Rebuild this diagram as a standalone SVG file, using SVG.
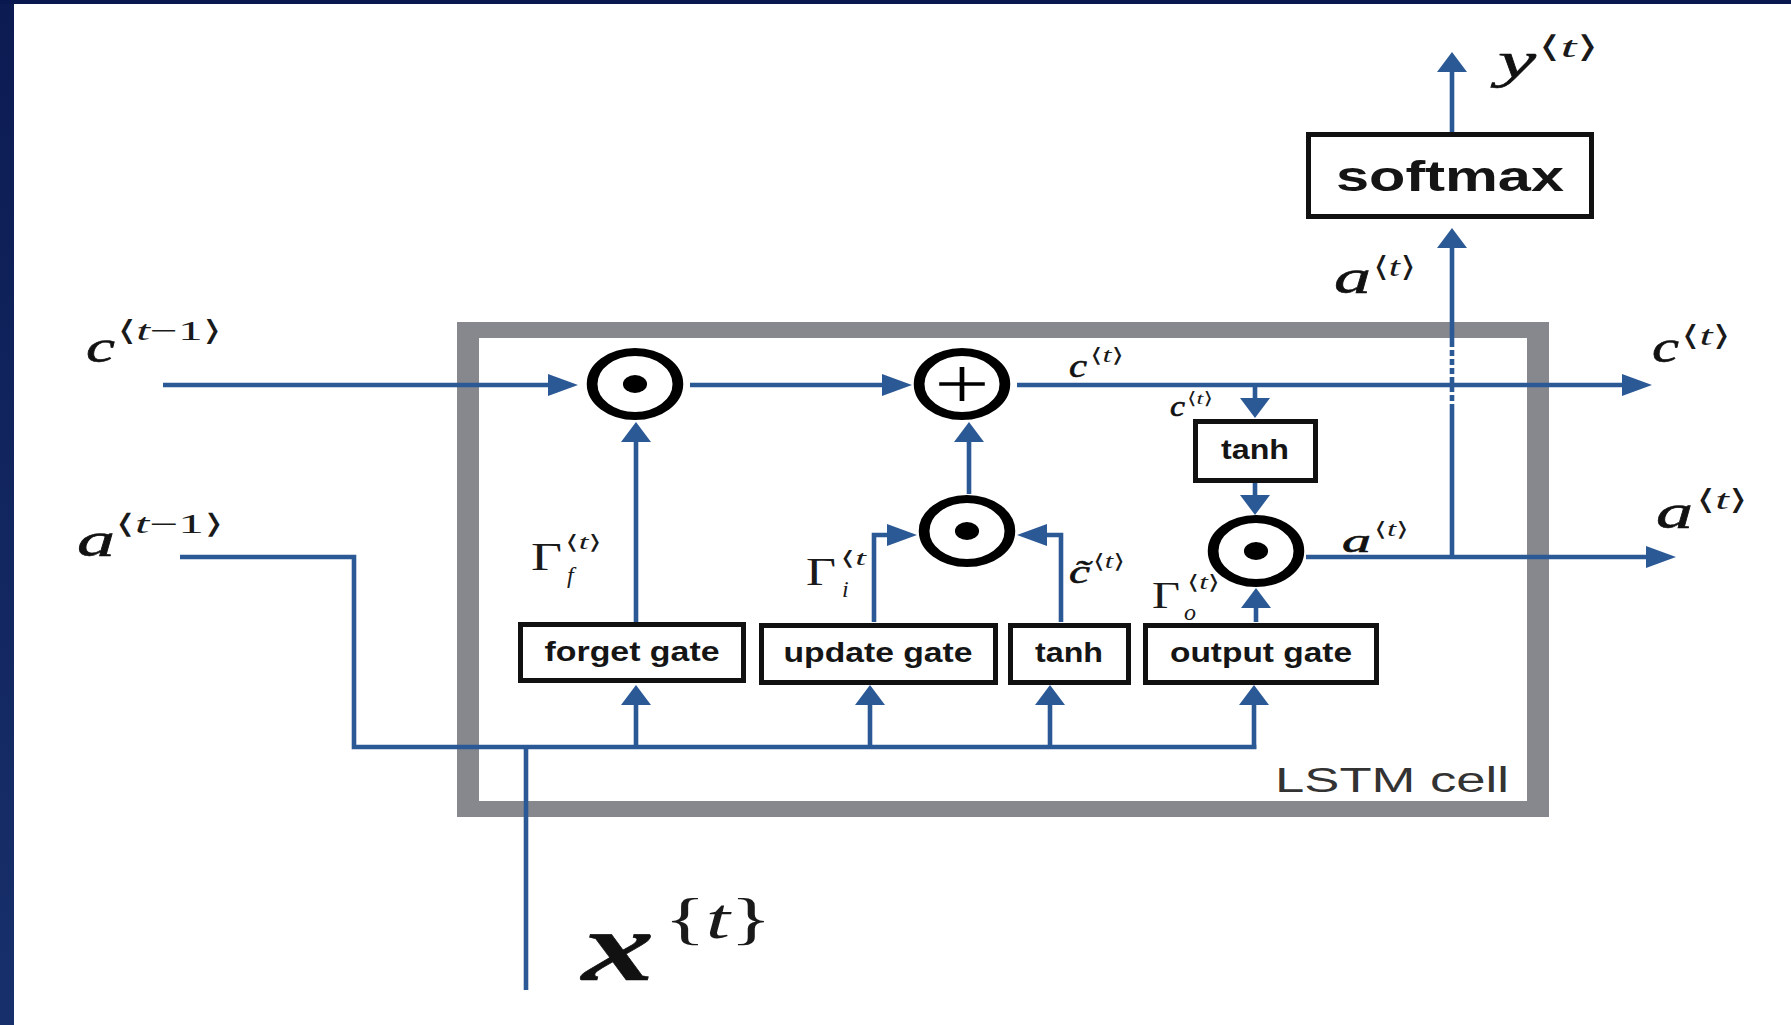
<svg xmlns="http://www.w3.org/2000/svg" width="1791" height="1025" viewBox="0 0 1791 1025">
<style>
.ln{fill:none;stroke:#2b5996;stroke-width:4.6;stroke-linejoin:miter}
.dash{fill:none;stroke:#2b5996;stroke-width:4.6;stroke-dasharray:6 3}
.box{fill:#fff;stroke:#111;stroke-width:5}
.bt{font-family:"Liberation Sans",Arial,sans-serif;font-weight:bold;fill:#151515;text-anchor:middle}
.m{font-family:"Liberation Serif","DejaVu Serif",serif;font-style:italic;fill:#111;stroke:#111;stroke-width:0.6}
.s{font-family:"Liberation Serif","DejaVu Serif",serif;fill:#1a1a1a}
.i{font-style:italic}
.op{fill:#fff;stroke:#000;stroke-width:8}
</style>
<defs>
<linearGradient id="lb" x1="0" y1="0" x2="0" y2="1">
<stop offset="0" stop-color="#0c1b52"/><stop offset="1" stop-color="#17306b"/>
</linearGradient>
<marker id="ah" markerUnits="userSpaceOnUse" viewBox="0 0 30 22" markerWidth="30" markerHeight="22" refX="0" refY="11" orient="auto"><path d="M0,0 L30,11 L0,22 z" fill="#2b5996"/></marker>
<marker id="av" markerUnits="userSpaceOnUse" viewBox="0 0 20 30" markerWidth="20" markerHeight="30" refX="0" refY="15" orient="auto"><path d="M0,0 L20,15 L0,30 z" fill="#2b5996"/></marker>
</defs>
<rect x="0" y="0" width="1791" height="1025" fill="#fff"/>
<rect x="0" y="0" width="14" height="1025" fill="url(#lb)"/>
<rect x="0" y="0" width="1791" height="4" fill="#0a1850"/>

<g id="lstm-cell">
<path d="M457,322 H1549 V817 H457 Z M479,338 V801 H1527 V338 Z" fill="#87888d" fill-rule="evenodd"/>
<text x="1275" y="792" font-family="Liberation Sans,Arial,sans-serif" font-size="35" fill="#333" textLength="234" lengthAdjust="spacingAndGlyphs">LSTM cell</text>
</g>

<g id="connectors">
<path class="ln" d="M163,385 H548" marker-end="url(#ah)"/>
<path class="ln" d="M690,385 H882" marker-end="url(#ah)"/>
<path class="ln" d="M1017,385 H1622" marker-end="url(#ah)"/>
<path class="ln" d="M1255,385 V398" marker-end="url(#av)"/>
<path class="ln" d="M1255,483 V495" marker-end="url(#av)"/>
<path class="ln" d="M1256,622 V608" marker-end="url(#av)"/>
<path class="ln" d="M1306,557 H1646" marker-end="url(#ah)"/>
<path class="ln" d="M1452,557 V410"/>
<path class="dash" d="M1452,410 V345"/>
<path class="ln" d="M1452,345 V248" marker-end="url(#av)"/>
<path class="ln" d="M1452,132 V72" marker-end="url(#av)"/>
<path class="ln" d="M636,622 V442" marker-end="url(#av)"/>
<path class="ln" d="M969,494 V442" marker-end="url(#av)"/>
<path class="ln" d="M874,622 V535 H887" marker-end="url(#ah)"/>
<path class="ln" d="M1061,622 V535 H1047" marker-end="url(#ah)"/>
<path class="ln" d="M180,557 H354 V747 H1256.3"/>
<path class="ln" d="M526,990 V747"/>
<path class="ln" d="M636,747 V705" marker-end="url(#av)"/>
<path class="ln" d="M870,747 V705" marker-end="url(#av)"/>
<path class="ln" d="M1050,747 V705" marker-end="url(#av)"/>
<path class="ln" d="M1254,749 V705" marker-end="url(#av)"/>
</g>

<g id="mul-forget" transform="translate(635,384) scale(1.34,1)"><circle r="32" class="op"/><circle r="9" fill="#000"/></g>
<g id="add-cell" transform="translate(962,384) scale(1.34,1)"><circle r="32" class="op"/><path d="M-17,0 H17 M0,-17 V17" stroke="#000" stroke-width="3.5"/></g>
<g id="mul-update" transform="translate(967,531) scale(1.34,1)"><circle r="32" class="op"/><circle r="9" fill="#000"/></g>
<g id="mul-output" transform="translate(1256,551) scale(1.34,1)"><circle r="32" class="op"/><circle r="9" fill="#000"/></g>

<g id="forget-gate"><rect class="box" x="520.5" y="624.5" width="223" height="56"/><text class="bt" x="632" y="661" font-size="27" textLength="175" lengthAdjust="spacingAndGlyphs">forget gate</text></g>
<g id="update-gate"><rect class="box" x="761.5" y="625.5" width="234" height="57"/><text class="bt" x="878" y="662" font-size="27" textLength="189" lengthAdjust="spacingAndGlyphs">update gate</text></g>
<g id="tanh-candidate"><rect class="box" x="1010.5" y="625.5" width="118" height="57"/><text class="bt" x="1069" y="662" font-size="27" textLength="68" lengthAdjust="spacingAndGlyphs">tanh</text></g>
<g id="output-gate"><rect class="box" x="1145.5" y="625.5" width="231" height="57"/><text class="bt" x="1261" y="662" font-size="27" textLength="182" lengthAdjust="spacingAndGlyphs">output gate</text></g>
<g id="tanh-cell"><rect class="box" x="1195.5" y="421.5" width="120" height="59"/><text class="bt" x="1255" y="459" font-size="27" textLength="68" lengthAdjust="spacingAndGlyphs">tanh</text></g>
<g id="softmax"><rect class="box" x="1308.5" y="134.5" width="283" height="82"/><text class="bt" x="1450" y="191" font-size="42" textLength="228" lengthAdjust="spacingAndGlyphs">softmax</text></g>

<g id="labels">
<text class="m" x="86" y="362" font-size="46" textLength="29" lengthAdjust="spacingAndGlyphs">c</text>
<text class="s" x="117" y="340" font-size="28" textLength="105" lengthAdjust="spacingAndGlyphs">⟨<tspan class="i">t</tspan>−1⟩</text>

<text class="m" x="77" y="556" font-size="48" textLength="38" lengthAdjust="spacingAndGlyphs">a</text>
<text class="s" x="115" y="533" font-size="27" textLength="109" lengthAdjust="spacingAndGlyphs">⟨<tspan class="i">t</tspan>−1⟩</text>

<text class="m" x="1069" y="377" font-size="33" textLength="18" lengthAdjust="spacingAndGlyphs">c</text>
<text class="s" x="1090" y="362" font-size="20" textLength="34" lengthAdjust="spacingAndGlyphs">⟨<tspan class="i">t</tspan>⟩</text>

<text class="m" x="1170" y="416" font-size="29" textLength="15" lengthAdjust="spacingAndGlyphs">c</text>
<text class="s" x="1187" y="404" font-size="17" textLength="26" lengthAdjust="spacingAndGlyphs">⟨<tspan class="i">t</tspan>⟩</text>

<text class="m" x="1652" y="362" font-size="46" textLength="27" lengthAdjust="spacingAndGlyphs">c</text>
<text class="s" x="1681" y="345" font-size="28" textLength="50" lengthAdjust="spacingAndGlyphs">⟨<tspan class="i">t</tspan>⟩</text>

<text class="m" x="1334" y="293" font-size="48" textLength="37" lengthAdjust="spacingAndGlyphs">a</text>
<text class="s" x="1373" y="276" font-size="28" textLength="43" lengthAdjust="spacingAndGlyphs">⟨<tspan class="i">t</tspan>⟩</text>

<text class="m" x="1498" y="77" font-size="50" textLength="38" lengthAdjust="spacingAndGlyphs">y</text>
<text class="s" x="1538" y="57" font-size="30" textLength="61" lengthAdjust="spacingAndGlyphs">⟨<tspan class="i">t</tspan>⟩</text>

<text class="m" x="1656" y="528" font-size="48" textLength="37" lengthAdjust="spacingAndGlyphs">a</text>
<text class="s" x="1696" y="509" font-size="28" textLength="52" lengthAdjust="spacingAndGlyphs">⟨<tspan class="i">t</tspan>⟩</text>

<text class="m" x="1342" y="552" font-size="33" textLength="29" lengthAdjust="spacingAndGlyphs">a</text>
<text class="s" x="1374" y="536" font-size="20" textLength="35" lengthAdjust="spacingAndGlyphs">⟨<tspan class="i">t</tspan>⟩</text>

<text class="s" x="531" y="570" font-size="40" textLength="31" lengthAdjust="spacingAndGlyphs">Γ</text>
<text class="s i" x="567" y="583" font-size="24">f</text>
<text class="s" x="565" y="549" font-size="20" textLength="37" lengthAdjust="spacingAndGlyphs">⟨<tspan class="i">t</tspan>⟩</text>

<text class="s" x="806" y="585" font-size="40" textLength="30" lengthAdjust="spacingAndGlyphs">Γ</text>
<text class="s i" x="842" y="597" font-size="24">i</text>
<text class="s" x="840" y="565" font-size="20" textLength="26" lengthAdjust="spacingAndGlyphs">⟨<tspan class="i">t</tspan></text>

<text class="m" x="1069" y="583" font-size="33" textLength="21" lengthAdjust="spacingAndGlyphs">c̃</text>
<text class="s" x="1093" y="568" font-size="20" textLength="32" lengthAdjust="spacingAndGlyphs">⟨<tspan class="i">t</tspan>⟩</text>

<text class="s" x="1152" y="608" font-size="38" textLength="28" lengthAdjust="spacingAndGlyphs">Γ</text>
<text class="s i" x="1184" y="620" font-size="24">o</text>
<text class="s" x="1187" y="589" font-size="20" textLength="33" lengthAdjust="spacingAndGlyphs">⟨<tspan class="i">t</tspan>⟩</text>

<text class="m" x="582" y="980" font-size="100" font-weight="bold" textLength="72" lengthAdjust="spacingAndGlyphs">x</text>
<text class="s" x="664" y="938" font-size="58" textLength="108" lengthAdjust="spacingAndGlyphs">{<tspan class="i">t</tspan>}</text>
</g>
</svg>
